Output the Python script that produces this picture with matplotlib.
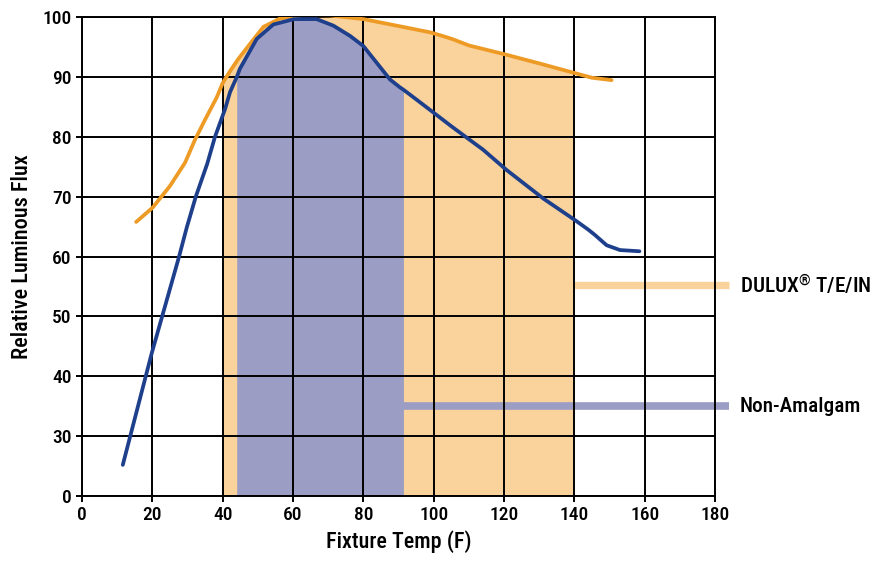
import matplotlib
matplotlib.use("Agg")
import matplotlib.pyplot as plt
from matplotlib import font_manager as fm
import numpy as np

_avail = set(f.name for f in fm.fontManager.ttflist)
_prefs = ['Roboto Condensed', 'Archivo Narrow', 'PT Sans Narrow', 'Liberation Sans Narrow',
          'Arial Narrow', 'Open Sans Condensed', 'Encode Sans Condensed', 'Fira Sans Condensed']
_font = next((f for f in _prefs if f in _avail), 'DejaVu Sans')
plt.rcParams['font.family'] = [_font, 'DejaVu Sans']
plt.rcParams['font.weight'] = 500
plt.rcParams['axes.labelweight'] = 500
plt.rcParams['mathtext.default'] = 'regular'

# ---- data ----
dulux_temp = [15.4, 20.1, 25.0, 29.3, 32.1, 35.0, 38.3, 40.0, 42.1, 44.4, 47.3, 51.6, 56.3, 62.9,
              70.5, 80.0, 89.5, 98.9, 103.0, 105.6, 110.0, 120.3, 130.0, 140.0, 145.0, 150.6]
dulux_flux = [65.8, 68.2, 71.8, 75.7, 79.5, 82.9, 86.6, 89.0, 91.0, 93.0, 95.2, 98.4, 99.8, 100.4,
              100.3, 99.7, 98.6, 97.5, 96.8, 96.3, 95.3, 93.8, 92.3, 90.7, 89.9, 89.5]

amalg_temp = [11.6, 19.8, 27.6, 29.8, 32.4, 35.6, 37.8, 40.7, 42.1, 44.0, 44.9, 47.3, 49.7, 54.4,
              60.3, 66.7, 71.5, 76.2, 80.0, 83.8, 87.6, 90.4, 91.4, 95.0, 99.9, 105.0, 110.3,
              114.0, 120.7, 131.2, 140.2, 144.0, 145.9, 149.2, 153.0, 158.5]
amalg_flux = [25.2, 43.8, 60.0, 64.9, 70.1, 75.5, 80.0, 84.7, 87.5, 90.0, 91.4, 93.9, 96.4, 98.8,
              99.7, 99.7, 98.6, 96.9, 95.2, 92.4, 89.6, 88.3, 87.9, 86.3, 84.1, 81.8, 79.5,
              77.9, 74.5, 69.7, 66.1, 64.5, 63.6, 61.9, 61.1, 60.9]

dulux_range = [40, 140]
amalg_range = [44, 91.4]

legend_names = ['DULUX$^{®}$ T/E/IN', 'Non-Amalgam']
legend_levels = [55.3, 35.0]

x_ticks = [0, 20, 40, 60, 80, 100, 120, 140, 160, 180]
y_ticks = [20, 30, 40, 50, 60, 70, 80, 90, 100]
y_tick_labels = ['0', '30', '40', '50', '60', '70', '80', '90', '100']

orange_line = '#EE9B25'
orange_fill = '#F9D29C'
blue_line = '#1E3F8C'
purple_fill = '#9B9DC5'

fig = plt.figure(figsize=(8.87, 5.62), dpi=100)
ax = fig.add_axes([82/887, 1-496/562, (715-82)/887, (496-17.3)/562])

ax.set_xlim(0, 180)
ax.set_ylim(20, 100)
ax.set_xticks(x_ticks)
ax.set_yticks(y_ticks)
ax.set_yticklabels(y_tick_labels)

dt = np.array(dulux_temp); df = np.array(dulux_flux)
at = np.array(amalg_temp); af = np.array(amalg_flux)

m = (dt >= dulux_range[0]) & (dt <= dulux_range[1])
ax.fill_between(dt[m], 20, df[m], color=orange_fill, lw=0, zorder=1)
m2 = (at >= amalg_range[0]) & (at <= amalg_range[1])
ax.fill_between(at[m2], 20, af[m2], color=purple_fill, lw=0, zorder=1.5)

# legend bars
ax.plot([dulux_range[1], 184], [legend_levels[0]]*2, color=orange_fill, lw=5.3,
        solid_capstyle='butt', clip_on=False, zorder=1.6)
ax.plot([amalg_range[1], 184], [legend_levels[1]]*2, color=purple_fill, lw=5.5,
        solid_capstyle='butt', clip_on=False, zorder=1.6)
for name, lev in zip(legend_names, legend_levels):
    ax.text(187, lev, name, fontsize=15.3, va='center', ha='left', clip_on=False)

ax.grid(True, color='black', lw=1.4, zorder=2)
ax.set_axisbelow(False)
for sp in ax.spines.values():
    sp.set_linewidth(1.4)
    sp.set_zorder(2.5)

ax.plot(dt, df, color=orange_line, lw=2.7, solid_capstyle='round', solid_joinstyle='round', zorder=3)
ax.plot(at, af, color=blue_line, lw=2.7, solid_capstyle='round', solid_joinstyle='round', zorder=3.1)

ax.tick_params(direction='inout', length=8, width=1.4, labelsize=14)
ax.set_xlabel('Fixture Temp (F)', fontsize=15.8, labelpad=4)
ax.set_ylabel('Relative Luminous Flux', fontsize=16, labelpad=7)

fig.savefig('out.png', dpi=100)
